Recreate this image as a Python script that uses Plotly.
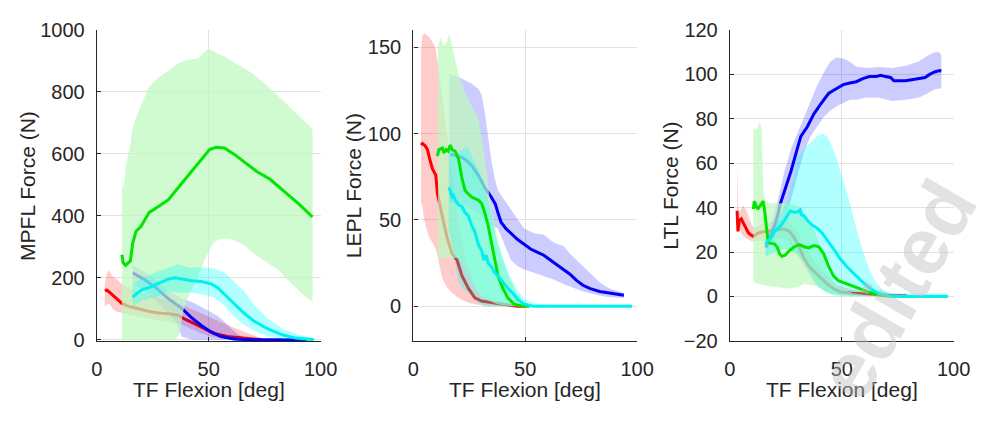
import plotly.graph_objects as go

# ---------------- data: MPFL (panel 1) ----------------
mpfl_red_x = [3.6, 4.4, 5.5, 7.3, 9.5, 11.2, 14.6, 19, 23.4, 27.7, 32, 36.5, 39.4, 43.8, 48.2, 52.5, 58.4, 64.2, 70, 73.7]
mpfl_red_y = [157, 160, 154, 142, 127, 117, 107, 99, 91, 86, 84, 78, 66, 51, 36, 20, 10, 5, 2, 0]
mpfl_red_bx = [3.5, 4.5, 5.5, 7, 9, 11, 15, 20, 25, 30, 35, 38, 42, 46, 50, 55, 60, 65, 70, 74]
mpfl_red_hi = [180, 215, 223, 205, 195, 180, 165, 150, 140, 130, 120, 112, 100, 88, 75, 58, 42, 28, 14, 4]
mpfl_red_lo = [107, 112, 117, 100, 90, 86, 80, 72, 65, 60, 55, 48, 35, 22, 12, 4, 1, 0, 0, 0]

mpfl_blue_x = [16, 20.4, 26.3, 32, 38, 38.7, 42.3, 46.7, 51, 55.5, 61.3, 67, 80, 94]
mpfl_blue_y = [216, 198, 168, 132, 101, 96, 71, 46, 25, 10, 2, 0, 0, 0]
mpfl_blue_bx = [16, 20, 25, 30, 35, 38, 40, 43, 47, 50, 54, 57, 60, 63, 66, 70, 80, 94]
mpfl_blue_hi = [240, 225, 200, 170, 145, 132, 128, 120, 105, 92, 76, 58, 36, 18, 6, 1, 0, 0]
mpfl_blue_lo = [180, 165, 135, 100, 60, 10, 5, 0, 0, 0, 0, 0, 0, 0, 0, 0, 0, 0]

mpfl_green_x = [11.2, 11.7, 12.8, 15, 16, 17.5, 19.7, 23.4, 27.7, 32, 36.5, 42.3, 46.7, 50.4, 53.3, 57, 61.3, 65.7, 71.5, 77.4, 83.2, 90.5, 96.4]
mpfl_green_y = [274, 249, 240, 254, 310, 350, 365, 411, 431, 452, 492, 543, 584, 614, 621, 619, 599, 574, 543, 518, 482, 437, 396]
mpfl_green_bx = [11.2, 11.7, 13, 15, 16, 17.5, 20, 23.4, 27.7, 32, 35, 37, 38.5, 40, 42.3, 45.3, 48.2, 49.6, 51, 52.6,
                 55, 58.4, 61.3, 64.2, 66, 70, 75.9, 79, 81.8, 83.2, 87.6, 92, 96.4]
mpfl_green_hi = [530, 480, 560, 630, 685, 716, 760, 817, 848, 868, 885, 895, 900, 902, 904, 909, 929, 939, 935, 929,
                 920, 909, 895, 883, 875, 858, 822, 800, 782, 772, 741, 711, 680]
mpfl_green_lo = [0, 0, 0, 0, 0, 0, 0, 0, 0, 0, 0, 20, 90, 125, 160, 205, 258, 280, 300, 315,
                 325, 327, 322, 312, 305, 279, 249, 236, 222, 208, 178, 147, 122]

mpfl_cyan_x = [16, 17.5, 20.4, 23.4, 26.3, 29.2, 32.1, 35, 38, 42.3, 46.7, 51.1, 54, 57, 61.3, 65.7, 70, 76, 83.2, 89, 93.4, 97]
mpfl_cyan_y = [137, 147, 162, 168, 178, 188, 196, 200, 196, 190, 188, 180, 168, 147, 117, 86, 61, 36, 15, 5, 2, 0]
mpfl_cyan_bx = [16, 20.4, 26.3, 32, 36.5, 41, 46.7, 52.6, 57, 61.3, 65.7, 70, 76, 83, 90.5, 97]
mpfl_cyan_hi = [178, 198, 218, 233, 244, 233, 233, 230, 218, 188, 157, 117, 71, 35, 15, 5]
mpfl_cyan_lo = [107, 127, 137, 157, 152, 152, 147, 135, 110, 75, 48, 30, 12, 3, 0, 0]

# ---------------- data: LEPL (panel 2) ----------------
lepl_red_x = [3.4, 4.1, 5.3, 6.3, 7.3, 8.5, 10, 10.8, 12.9, 15.1, 17.3, 19.5, 21.7, 24.6, 27.5, 30.5, 34.8, 40.7, 46.6, 50]
lepl_red_y = [93.4, 94.3, 92.9, 90.7, 85.2, 79.7, 76, 65, 52.4, 39.6, 30.5, 26.8, 17.7, 10.4, 4.9, 3.1, 2.2, 0.9, 0, 0]
lepl_red_bx = [3.4, 4, 4.8, 7, 9, 10, 11, 12.9, 15, 17, 20, 22, 25, 28, 31, 35, 40, 46, 50]
lepl_red_hi = [147, 157, 158, 156, 152, 149, 140, 120, 100, 80, 50, 35, 20, 10, 6, 4, 2, 1, 0.5]
lepl_red_lo = [60, 58, 50, 40, 36, 33, 28, 16, 11, 8, 5, 3.5, 2, 1, 0.5, 0, 0, 0, 0]

lepl_blue_x = [16.5, 20.2, 23.1, 26, 29, 31.9, 34.8, 36.6, 37.8, 39.2, 41.4, 43.6, 46.6, 49.5, 52.4, 55.3, 58.3, 61.2,
               64.1, 67.1, 70, 72.9, 75.8, 78.8, 83.2, 87.6, 90.5, 94.1]
lepl_blue_y = [88, 87, 85.2, 81.6, 76, 68.8, 63.3, 59.3, 54.2, 48.7, 45, 42.3, 38.7, 36, 33.2, 31.4, 29.6, 26.8,
               24.1, 21.4, 18.6, 15, 12.2, 10.4, 8.6, 7.7, 7.1, 6.4]
lepl_blue_bx = [16.1, 17.3, 20.2, 23.1, 26, 29, 30.5, 31.9, 33.4, 34.8, 36.3, 37.8, 40.7, 43.6, 46.6, 49.5, 53.9, 58.3,
                62.7, 67.1, 70, 72.9, 75.8, 78.8, 83.2, 87.6, 92, 94.1]
lepl_blue_hi = [135, 133.6, 132.7, 131, 129, 126, 122.6, 112.6, 98, 85.2, 74.3, 67, 61.5, 56, 50.5, 45, 42.3, 41.4,
                36.9, 35, 30.5, 26.8, 23.2, 19.5, 14, 10.4, 8.6, 7.7]
lepl_blue_lo = [60, 60, 60, 58, 56, 54, 52, 50, 48, 47, 46, 45, 36, 26.8, 23.2, 21.4, 19.5, 17.7,
                15.5, 13, 11.3, 10, 8.6, 7.5, 6.3, 5.3, 5, 4.9]

lepl_green_x = [10.7, 11.4, 12.9, 13.6, 14.6, 15.5, 16.5, 17.3, 18.7, 20.2, 21.7, 23.1, 26, 29, 30.5, 31.9, 33.4, 34.8,
                36.3, 37.8, 40, 42.2, 45, 49.5, 52]
lepl_green_y = [87, 90.7, 91.6, 88.9, 90.7, 89.8, 93.4, 90.7, 89.8, 85.2, 74.3, 67, 63.3, 61.5, 59.7, 54.2, 46.9, 37.8,
                26.8, 17.7, 10.4, 4.9, 1.3, 0, 0]
lepl_green_bx = [11, 12.2, 13.6, 15, 16.1, 17.3, 20.2, 23.1, 26, 29, 30.5, 32.6, 34.1, 36, 38, 40, 43, 46, 50, 55]
lepl_green_hi = [150, 155.5, 151, 153, 158, 151, 134, 123.5, 116, 109, 98, 80, 61.5, 48, 36, 27, 16, 8, 2, 0]
lepl_green_lo = [28, 28, 28, 28, 28, 28, 28, 22, 15, 8, 6, 4, 3, 2, 1, 0.5, 0, 0, 0, 0]

lepl_cyan_x = [15.8, 16.5, 17.3, 18, 18.7, 20.2, 21.7, 23.1, 24.6, 26, 27.5, 29, 30.5, 31.6, 32.6, 33.4, 34.8, 36.3,
               37.8, 40, 42.2, 44.4, 46.6, 49.5, 53.9, 97.8]
lepl_cyan_y = [68.8, 67, 63.3, 64.2, 61.5, 58.8, 57.8, 54.2, 52.4, 46.9, 43.2, 35.9, 32.3, 26.8, 29.6, 25, 23.2, 19.5,
               17.7, 14.1, 10.4, 7.7, 4, 1.3, 0, 0]
lepl_cyan_bx = [15.8, 18, 20, 22, 24.6, 26, 29, 31.9, 34.8, 37, 40, 43, 46, 50, 55, 60, 97.8]
lepl_cyan_hi = [89.8, 90, 88.9, 91, 92.5, 87, 79.7, 68.8, 54.2, 40, 28, 18, 10, 4, 1.5, 1, 1]
lepl_cyan_lo = [45, 30, 15, 10, 8, 6, 2, 0, 0, 0, 0, 0, 0, 0, 0, 0, 0]

# ---------------- data: LTL (panel 3) ----------------
ltl_red_x = [3.2, 3.6, 4.2, 5.1, 6.1, 7.3, 8.3, 9.5, 10.5, 12.7, 15.6, 18.5, 21.5, 24.4, 26.6, 28.8, 31, 33.1, 35.3,
             37.5, 40.4, 43.4, 46.3, 49.2, 55, 60.9, 66.7, 72.6, 79]
ltl_red_y = [38.6, 29.3, 34.3, 35, 32.9, 30.7, 28.6, 27.6, 27.1, 28.6, 29.3, 29.6, 30, 30.4, 29.3, 26.4, 22.1, 17.1, 13.6,
             11.4, 8.6, 5.7, 3.6, 2.1, 1.4, 1, 0.7, 0.4, 0.3]
ltl_red_bx = [3.2, 3.5, 3.7, 4.2, 6, 7.6, 9.8, 11, 15, 20, 25, 28, 31, 34, 37, 40, 44, 48, 55, 65, 80]
ltl_red_hi = [40, 60, 40, 38, 41, 38, 32, 31, 33, 34, 35, 32, 28, 22, 17, 13, 9, 5, 3, 1.5, 0.5]
ltl_red_lo = [29, 29, 29, 30, 27, 26, 25, 25, 25, 26, 26, 22, 17, 12, 7, 4, 2, 1, 0.3, 0, 0]

ltl_blue_x = [16, 18, 20, 21.5, 22.2, 23.6, 25.1, 27.3, 29.5, 31.7, 34.6, 37.5, 40.4, 44.1, 47.7, 50.7, 53.6, 56.5,
              59.4, 62.3, 65.3, 67.4, 69.6, 71.8, 73.3, 75.5, 78.4, 81.3, 84.2, 87.2, 89.3, 91.5, 93.7, 94.5]
ltl_blue_y = [22, 27, 32, 37.1, 40.7, 45, 49.3, 56.4, 64.3, 72.1, 76.4, 82.1, 86.4, 91.4, 93.6, 95.4, 96.1, 96.7,
              98.1, 99, 99, 99.6, 99, 98.6, 97.1, 97.1, 97.1, 97.6, 98.1, 98.6, 100, 101.1, 101.7, 101.4]
ltl_blue_bx = [16, 18, 21.5, 24.4, 27.3, 30.3, 33.1, 36, 39, 41.9, 44.8, 47.7, 50.7, 53.6, 56.5, 60.9, 66.7, 72.6,
               78.4, 84.2, 88.6, 91.5, 93.7, 94.5]
ltl_blue_hi = [26, 32, 43.6, 56.4, 66.4, 73.6, 80.7, 87.9, 95, 100.7, 105.7, 107.6, 107.1, 105.7, 103.6, 102.9, 103.3,
               102.9, 103.9, 105.7, 108.6, 110, 110, 108.6]
ltl_blue_lo = [17, 22, 30.7, 35, 43.6, 55, 65, 72.1, 76.4, 80.7, 83.6, 85.7, 87.1, 88.6, 88.6, 89.6, 89.5, 88,
               88.6, 89.5, 91.5, 93.3, 93.6, 93.6]

ltl_green_x = [10.5, 10.9, 11.5, 12.4, 13.4, 14.9, 15.6, 16.4, 17.1, 18.5, 20, 21.2, 22.2, 23.2, 24.7, 26.6, 28.8, 31,
               33.1, 35.3, 37.5, 39.7, 41.9, 44.1, 46.3, 48.5, 52.1, 56.5, 60.9, 65.3, 69.6, 74]
ltl_green_y = [39.3, 42.9, 41.4, 39.3, 40.7, 42.9, 37.9, 29.3, 24.3, 23.9, 23.6, 22.1, 19.3, 18.1, 18.6, 20.7, 22.4, 23.3,
               22.4, 21.9, 22.9, 22.4, 19.3, 13.6, 9.3, 7.1, 5.7, 4.3, 2.4, 1, 0.3, 0]
ltl_green_bx = [10.5, 12, 13.4, 14.2, 14.9, 15.6, 18, 22, 26, 30, 33, 36, 38, 40.5, 43.4, 46.3, 49, 55, 62, 70, 75]
ltl_green_hi = [75.7, 75, 78.6, 75, 49, 43.6, 42, 42, 42, 41, 38, 33, 29, 22, 12, 6.4, 3.6, 1.4, 0.5, 0.2, 0]
ltl_green_lo = [6.4, 6, 5.5, 5.2, 5, 4.8, 4.5, 4, 3.6, 4.2, 5.6, 5.2, 5, 3.6, 2, 1, 0.5, 0, 0, 0, 0]

ltl_cyan_x = [15.9, 17.1, 18.5, 20, 21.5, 22.9, 24.4, 25.8, 27, 28.8, 30.3, 31.4, 32, 33.1, 34.6, 36.8, 39, 41.2, 43.4,
              46.3, 49.2, 52.1, 55, 57.9, 60.9, 63.8, 66.7, 71.1, 75.5, 97.4]
ltl_cyan_y = [23.6, 25, 26.7, 29.3, 30.7, 32.1, 34.3, 36.4, 38.6, 37.9, 38.1, 39, 36.7, 36.4, 34.3, 32.1, 30.7, 28.6, 25.7,
              21.4, 17.1, 13.6, 10.7, 7.9, 5, 2.9, 1.4, 0.3, 0, 0]
ltl_cyan_bx = [16, 17, 20, 23, 25.8, 27.3, 28.8, 29.5, 31, 33, 36, 39, 41.2, 43.4, 45.5, 47.7, 50.7, 53.6, 56.5, 59.4,
               62.3, 65.3, 68.2, 72.6, 77, 97.4]
ltl_cyan_hi = [25, 27, 32, 38, 43.6, 49.3, 55, 62, 63.6, 66.4, 69.3, 72.1, 73.3, 72.1, 67.9, 62.1, 52.1, 42.1, 30.7, 20.7,
               12.1, 6.4, 3, 1.6, 1.4, 1.2]
ltl_cyan_lo = [18, 18.5, 20, 21, 21.5, 21, 20, 19.5, 18, 16, 10, 5, 3, 1.5, 0.8, 0.3, 0, 0, 0, 0,
               0, 0, 0, 0, 0, 0]

# ---------------- labels ----------------
y_titles = ["MPFL Force (N)", "LEPL Force (N)", "LTL Force (N)"]
x_title = "TF Flexion [deg]"
x_ticks = [0, 50, 100]
y_ticks = [[0, 200, 400, 600, 800, 1000], [0, 50, 100, 150], [-20, 0, 20, 40, 60, 80, 100, 120]]
y_ranges = [[-4, 1000], [-20, 160], [-20, 120]]
watermark = "edited"

# ---------------- style ----------------
W, H = 997, 423
FONT = "Liberation Sans, Arial, sans-serif"
TXT = "#262626"
GRID = "#e2e2e2"
C_RED, C_BLUE, C_GREEN, C_CYAN = "rgb(255,0,0)", "rgb(0,0,245)", "rgb(0,230,0)", "rgb(0,240,240)"
B_RED, B_BLUE = "rgba(255,0,0,0.2)", "rgba(0,0,255,0.2)"
B_GREEN, B_CYAN = "rgba(190,248,190,0.72)", "rgba(0,255,255,0.3)"

px_left = [93, 417, 741]
px_w = 229
px_top, px_bot = 20, 348


def band(x, lo, hi, color, n):
    return go.Scatter(x=list(x) + list(x)[::-1], y=list(hi) + list(lo)[::-1], fill="toself",
                      fillcolor=color, line=dict(width=0), mode="lines", hoverinfo="skip",
                      xaxis="x" + (str(n) if n > 1 else ""), yaxis="y" + (str(n) if n > 1 else ""),
                      showlegend=False)


def line(x, y, color, n):
    return go.Scatter(x=x, y=y, mode="lines", line=dict(color=color, width=3),
                      xaxis="x" + (str(n) if n > 1 else ""), yaxis="y" + (str(n) if n > 1 else ""),
                      showlegend=False)


panels = [
    (mpfl_red_x, mpfl_red_y, mpfl_red_bx, mpfl_red_lo, mpfl_red_hi,
     mpfl_blue_x, mpfl_blue_y, mpfl_blue_bx, mpfl_blue_lo, mpfl_blue_hi,
     mpfl_green_x, mpfl_green_y, mpfl_green_bx, mpfl_green_lo, mpfl_green_hi,
     mpfl_cyan_x, mpfl_cyan_y, mpfl_cyan_bx, mpfl_cyan_lo, mpfl_cyan_hi),
    (lepl_red_x, lepl_red_y, lepl_red_bx, lepl_red_lo, lepl_red_hi,
     lepl_blue_x, lepl_blue_y, lepl_blue_bx, lepl_blue_lo, lepl_blue_hi,
     lepl_green_x, lepl_green_y, lepl_green_bx, lepl_green_lo, lepl_green_hi,
     lepl_cyan_x, lepl_cyan_y, lepl_cyan_bx, lepl_cyan_lo, lepl_cyan_hi),
    (ltl_red_x, ltl_red_y, ltl_red_bx, ltl_red_lo, ltl_red_hi,
     ltl_blue_x, ltl_blue_y, ltl_blue_bx, ltl_blue_lo, ltl_blue_hi,
     ltl_green_x, ltl_green_y, ltl_green_bx, ltl_green_lo, ltl_green_hi,
     ltl_cyan_x, ltl_cyan_y, ltl_cyan_bx, ltl_cyan_lo, ltl_cyan_hi),
]

fig = go.Figure()
for i, p in enumerate(panels):
    n = i + 1
    (rx, ry, rbx, rlo, rhi, bx, by, bbx, blo, bhi, gx, gy, gbx, glo, ghi, cx, cy, cbx, clo, chi) = p
    fig.add_trace(band(rbx, rlo, rhi, B_RED, n))
    fig.add_trace(line(rx, ry, C_RED, n))
    fig.add_trace(band(bbx, blo, bhi, B_BLUE, n))
    fig.add_trace(line(bx, by, C_BLUE, n))
    fig.add_trace(band(gbx, glo, ghi, B_GREEN, n))
    fig.add_trace(band(cbx, clo, chi, B_CYAN, n))
    fig.add_trace(line(gx, gy, C_GREEN, n))
    fig.add_trace(line(cx, cy, C_CYAN, n))

ydom = [(H - px_bot) / H, (H - px_top) / H]
layout = dict(width=W, height=H, margin=dict(l=0, r=0, t=0, b=0),
              paper_bgcolor="white", plot_bgcolor="white", showlegend=False,
              font=dict(family=FONT, size=20, color=TXT))
annotations = []
for i in range(3):
    n = i + 1
    sfx = str(n) if n > 1 else ""
    x0 = px_left[i] / W
    x1 = (px_left[i] + px_w) / W
    layout["xaxis" + sfx] = dict(domain=[x0, x1], range=[0, 100], tickvals=x_ticks,
                                 showgrid=True, gridcolor=GRID, gridwidth=1, zeroline=False,
                                 showline=True, linecolor=TXT, linewidth=1.3,
                                 ticks="inside", ticklen=4, tickcolor=TXT, ticklabelstandoff=10,
                                 anchor="y" + sfx, tickfont=dict(size=20, color=TXT))
    layout["yaxis" + sfx] = dict(domain=ydom, range=y_ranges[i], tickvals=y_ticks[i],
                                 showgrid=True, gridcolor=GRID, gridwidth=1, zeroline=False,
                                 showline=True, linecolor=TXT, linewidth=1.3,
                                 ticks="inside", ticklen=4, tickcolor=TXT, ticklabelstandoff=7,
                                 anchor="x" + sfx, tickfont=dict(size=20, color=TXT))
    annotations.append(dict(text=x_title, xref="paper", yref="paper",
                            x=(px_left[i] + px_w / 2) / W, y=1 - 399 / H,
                            showarrow=False, font=dict(size=21, color=TXT, family=FONT),
                            xanchor="center", yanchor="middle"))

y_title_x = [22, 356, 680]
for i in range(3):
    annotations.append(dict(text=y_titles[i], xref="paper", yref="paper",
                            x=y_title_x[i] / W, y=1 - 184 / H, textangle=-90,
                            showarrow=False, font=dict(size=21, color=TXT, family=FONT),
                            xanchor="center", yanchor="middle"))

annotations.append(dict(text="<b>" + watermark + "</b>", xref="paper", yref="paper",
                        x=912 / W, y=1 - 294 / H, textangle=-60, showarrow=False,
                        font=dict(size=80, color="rgba(190,190,190,0.45)", family=FONT),
                        xanchor="center", yanchor="middle"))
layout["annotations"] = annotations
fig.update_layout(**layout)

fig.write_html("out.html")
